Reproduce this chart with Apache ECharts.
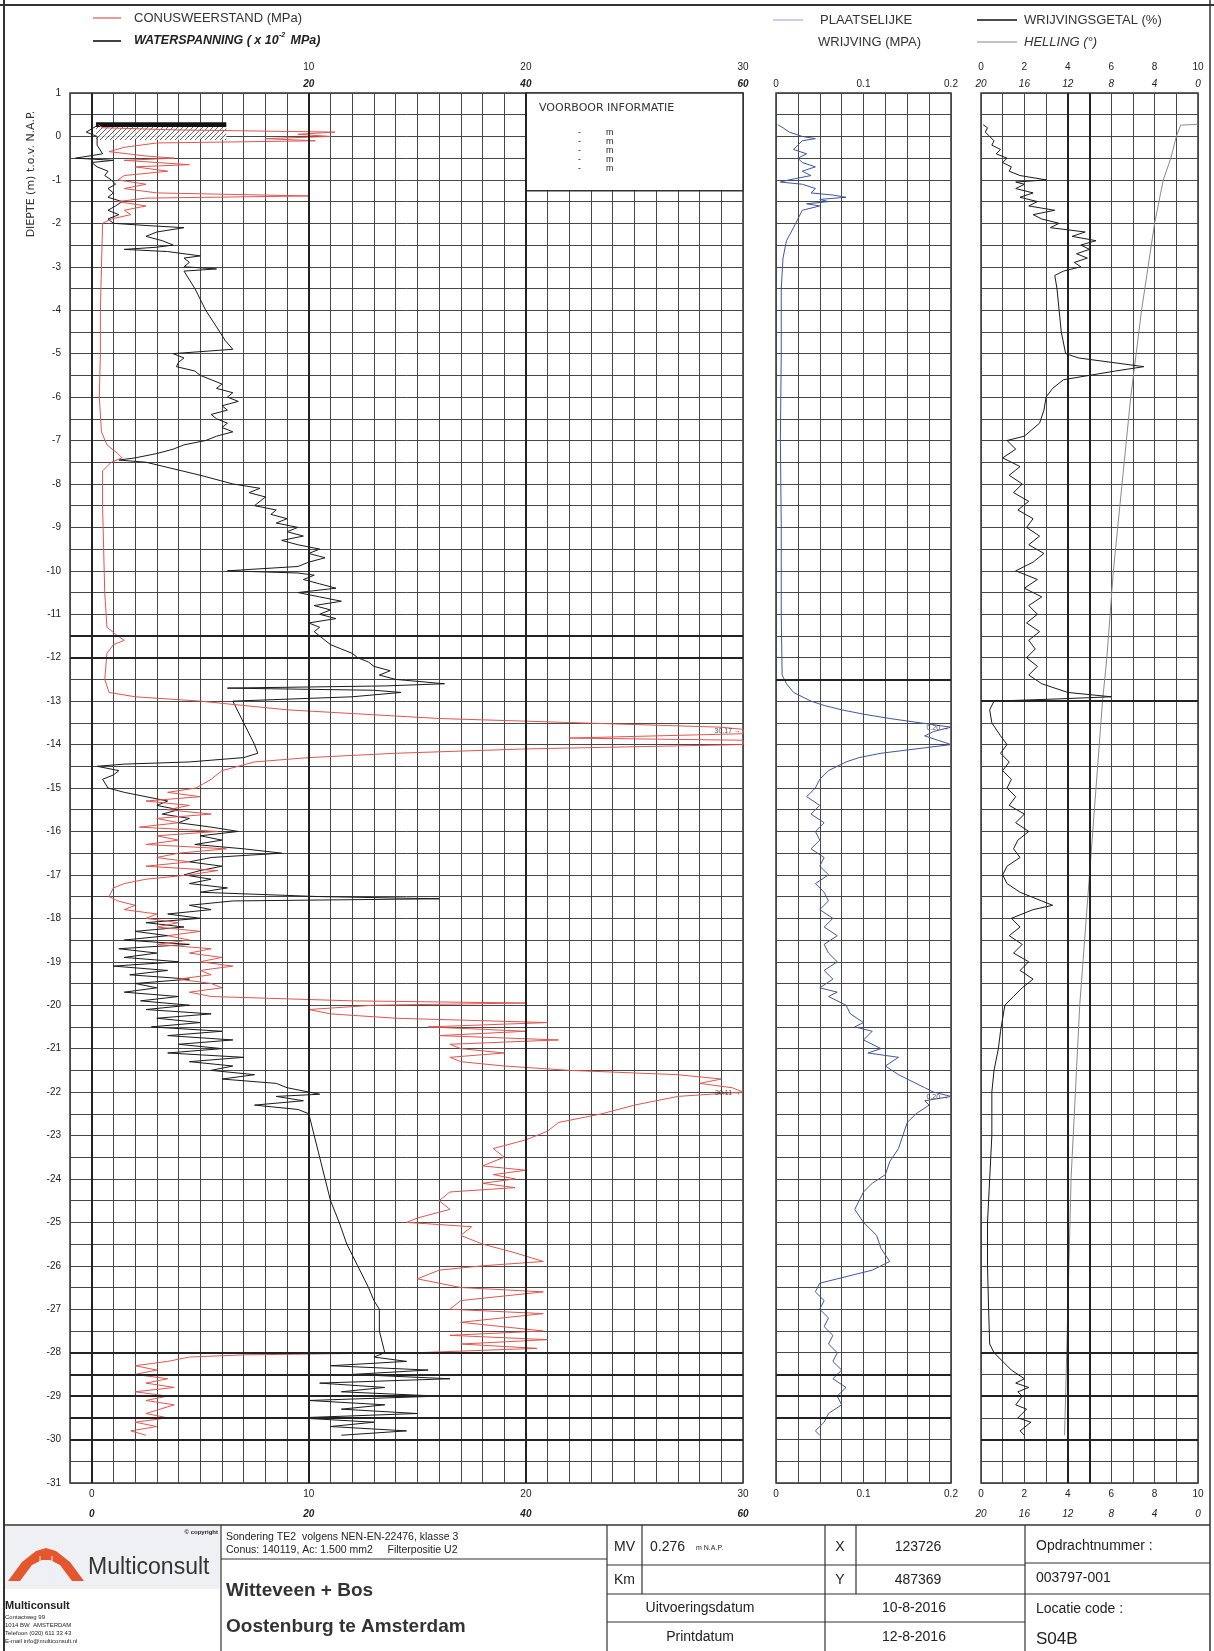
<!DOCTYPE html>
<html>
<head>
<meta charset="utf-8">
<script src="https://cdn.jsdelivr.net/npm/echarts@6/dist/echarts.min.js"></script>
<style>
html,body{margin:0;padding:0;background:#fff;}
#chart{width:1214px;height:1651px;}
</style>
</head>
<body>
<div id="chart"></div>
<script>
// [diepte m NAP, conusweerstand MPa]
const conus = [[0.27,0.3],[0.2,0.5],[0.15,4],[0.1,11.2],[0.05,9.5],[0.0,11.0],[-0.05,8],[-0.1,10.3],[-0.15,3],[-0.25,1.5],[-0.35,0.8],[-0.45,2.5],[-0.5,3.8],[-0.55,1.5],[-0.65,4.5],[-0.7,2],[-0.8,3.5],[-0.9,1.5],[-1.0,1.2],[-1.1,2.5],[-1.2,1.5],[-1.3,3],[-1.37,10],[-1.42,2.5],[-1.5,1.2],[-1.6,2.5],[-1.7,1.5],[-1.8,1.8],[-1.9,0.9],[-2.0,0.5],[-3,0.45],[-4,0.4],[-5,0.4],[-6,0.35],[-6.8,0.45],[-7.1,0.7],[-7.3,1.2],[-7.4,1.4],[-7.5,0.9],[-7.7,0.5],[-8.5,0.5],[-9.5,0.55],[-10.5,0.6],[-11.3,0.7],[-11.5,1.2],[-11.6,1.5],[-11.7,1.0],[-11.9,0.7],[-12.5,0.6],[-12.8,0.8],[-12.9,2],[-13.0,5],[-13.2,9],[-13.4,16],[-13.5,22.5],[-13.6,29],[-13.65,30],[-13.75,30],[-13.85,22],[-13.9,30],[-14.0,30],[-14.1,20],[-14.2,14],[-14.3,10],[-14.4,7.5],[-14.6,6],[-14.8,5.5],[-15.0,4.8],[-15.1,3.5],[-15.2,5],[-15.3,2.5],[-15.4,4.5],[-15.5,3.5],[-15.6,5.5],[-15.7,3],[-15.8,4],[-15.9,2.2],[-16.0,5.8],[-16.1,3],[-16.2,4],[-16.3,2.5],[-16.4,6.2],[-16.5,4],[-16.6,3],[-16.7,4.5],[-16.8,2.5],[-16.9,5.8],[-17.0,4.5],[-17.1,2.5],[-17.2,1.5],[-17.3,1.0],[-17.5,0.8],[-17.6,1.2],[-17.7,2],[-17.8,1.5],[-17.9,3],[-18.0,2.5],[-18.1,4],[-18.2,3],[-18.3,5],[-18.4,3.5],[-18.5,4.5],[-18.6,3],[-18.7,5.5],[-18.8,4.5],[-18.9,6],[-19.0,5],[-19.1,6.5],[-19.2,5],[-19.3,5.5],[-19.4,4],[-19.5,5.5],[-19.6,6],[-19.7,4.5],[-19.8,5.5],[-19.9,12],[-19.95,20],[-20.0,13],[-20.1,10],[-20.2,11],[-20.3,14],[-20.4,21],[-20.5,15.5],[-20.6,20],[-20.7,16],[-20.8,21.5],[-20.9,16.5],[-21.0,17],[-21.1,19],[-21.2,16.5],[-21.3,17],[-21.4,19],[-21.5,22],[-21.6,27],[-21.7,29],[-21.8,28],[-21.9,29.5],[-22.0,30],[-22.1,27],[-22.2,26],[-22.3,25],[-22.5,23.5],[-22.7,21.5],[-22.9,21],[-23.1,20],[-23.3,18.5],[-23.5,19],[-23.7,18],[-23.8,20],[-23.9,18.5],[-24.0,19.5],[-24.1,18],[-24.2,19.5],[-24.3,16.5],[-24.5,16],[-24.7,16.5],[-24.9,15],[-25.0,14.5],[-25.1,17.5],[-25.3,17],[-25.5,18],[-25.7,19.5],[-25.9,20.8],[-26.0,18],[-26.1,16],[-26.3,15],[-26.5,17],[-26.6,20.8],[-26.8,17],[-27.0,16.5],[-27.1,20.8],[-27.3,17],[-27.5,20.8],[-27.6,16.5],[-27.7,21],[-27.8,17],[-27.9,20.5],[-28.0,15],[-28.05,7],[-28.1,4.5],[-28.2,3.5],[-28.3,2],[-28.4,3],[-28.5,2],[-28.6,3.5],[-28.7,2.5],[-28.8,3.8],[-28.9,2],[-29.0,3.5],[-29.1,2.5],[-29.2,3.8],[-29.4,2.5],[-29.5,3.5],[-29.6,2],[-29.7,3],[-29.8,1.8],[-29.9,2.5]];

// [diepte, waterspanning x 10^-2 MPa]
const waterspanning = [[0.25,0.5],[0.1,-0.5],[0.0,0.5],[-0.2,0.5],[-0.4,1.0],[-0.5,-1.5],[-0.55,2],[-0.6,0],[-0.7,0.5],[-0.8,1.5],[-0.9,1.2],[-1.0,1.8],[-1.1,2.2],[-1.2,1.5],[-1.3,2],[-1.4,1.5],[-1.5,2.8],[-1.6,2.2],[-1.7,1.5],[-1.8,2.5],[-1.9,1.5],[-2.0,2],[-2.05,5],[-2.1,8.5],[-2.2,6],[-2.3,5],[-2.4,6.5],[-2.5,7.5],[-2.55,6],[-2.6,3],[-2.65,7],[-2.75,10],[-2.8,8.5],[-2.9,9],[-3.0,8.5],[-3.05,11.5],[-3.1,8.5],[-3.5,9.5],[-4.0,10.5],[-4.5,11.8],[-4.7,12.3],[-4.9,13],[-5.0,7.5],[-5.1,8.5],[-5.2,8],[-5.3,7.8],[-5.4,9.5],[-5.5,10],[-5.6,11],[-5.7,12],[-5.8,11.5],[-5.9,13],[-6.0,12.5],[-6.1,13.5],[-6.2,12],[-6.3,12.5],[-6.4,11],[-6.5,11.5],[-6.6,12.5],[-6.7,12],[-6.8,13],[-6.9,11.5],[-7.0,10.5],[-7.1,8.5],[-7.2,7.5],[-7.3,6],[-7.4,4],[-7.45,2.5],[-7.5,5],[-7.8,10],[-8.0,13],[-8.1,15.5],[-8.2,14.5],[-8.3,16],[-8.5,15],[-8.6,17],[-8.7,16.5],[-8.8,18],[-8.9,17],[-9.0,19],[-9.1,18],[-9.2,19.5],[-9.3,17.5],[-9.4,19],[-9.5,21],[-9.6,20],[-9.7,21.5],[-9.8,20],[-9.9,19],[-10.0,12.5],[-10.05,19],[-10.1,20.5],[-10.2,19.5],[-10.3,21],[-10.4,22.5],[-10.5,19],[-10.6,21],[-10.7,23],[-10.8,20.5],[-10.9,22],[-11.0,21],[-11.1,22.5],[-11.2,20],[-11.3,21],[-11.4,20.5],[-11.5,21],[-11.6,21.5],[-11.7,22],[-11.8,23],[-11.9,24],[-12.0,24.5],[-12.1,25.5],[-12.2,26],[-12.3,27.5],[-12.4,26.5],[-12.5,28],[-12.6,32.5],[-12.65,27],[-12.7,12.5],[-12.75,26],[-12.8,28.5],[-12.9,24],[-13.0,13],[-13.5,14],[-14.0,15],[-14.2,15.3],[-14.3,14],[-14.4,9],[-14.45,3],[-14.5,0.5],[-14.6,2.5],[-14.7,2],[-14.8,1],[-15.0,1.5],[-15.1,3],[-15.2,5],[-15.3,7],[-15.4,6],[-15.5,8],[-15.6,6.5],[-15.7,9],[-15.8,8],[-15.9,11],[-16.0,13.5],[-16.1,10],[-16.2,12],[-16.3,9.5],[-16.4,14],[-16.5,17.5],[-16.6,11],[-16.7,9],[-16.8,12],[-16.9,10],[-17.0,8.5],[-17.1,11],[-17.2,9],[-17.3,12.5],[-17.4,10],[-17.5,21],[-17.55,32],[-17.6,13],[-17.7,9],[-17.8,11],[-17.9,7],[-18.0,10],[-18.1,5],[-18.2,8.5],[-18.3,4],[-18.4,7],[-18.5,3],[-18.6,9],[-18.7,2.5],[-18.8,6],[-18.9,3],[-19.0,8],[-19.1,2],[-19.2,7],[-19.3,3.5],[-19.4,9],[-19.5,4],[-19.6,6],[-19.7,3],[-19.8,8],[-19.9,4.5],[-20.0,9],[-20.1,5],[-20.2,11],[-20.3,6],[-20.4,10],[-20.5,5.5],[-20.6,12],[-20.7,7],[-20.8,13],[-20.9,8],[-21.0,12],[-21.1,7],[-21.2,14],[-21.3,9],[-21.4,13],[-21.5,11],[-21.6,15],[-21.7,12],[-21.8,17],[-21.9,18],[-22.0,20],[-22.05,21],[-22.1,17],[-22.2,19.5],[-22.3,15],[-22.4,19],[-22.5,20],[-23.0,20.5],[-23.5,21],[-24.0,21.5],[-24.5,22],[-25.0,22.8],[-25.5,23.5],[-26.0,24.5],[-26.5,25.5],[-26.8,26],[-27.0,26.5],[-27.5,26.5],[-28.0,27],[-28.1,26],[-28.2,29],[-28.3,22],[-28.4,31],[-28.5,24],[-28.6,33],[-28.7,21],[-28.8,27],[-28.9,23],[-29.0,32],[-29.1,20],[-29.2,27],[-29.3,23],[-29.4,30],[-29.5,19],[-29.6,26],[-29.7,22],[-29.8,29],[-29.9,23]];

// [diepte, plaatselijke wrijving MPa]
const wrijving = [[0.27,0.002],[0.2,0.008],[0.1,0.015],[0.0,0.03],[-0.05,0.045],[-0.1,0.03],[-0.2,0.025],[-0.3,0.02],[-0.4,0.035],[-0.5,0.025],[-0.6,0.03],[-0.7,0.045],[-0.8,0.03],[-0.9,0.04],[-1.0,0.015],[-1.05,0.005],[-1.1,0.03],[-1.2,0.045],[-1.3,0.04],[-1.35,0.065],[-1.4,0.08],[-1.45,0.05],[-1.5,0.06],[-1.55,0.035],[-1.6,0.05],[-1.7,0.03],[-1.9,0.025],[-2.1,0.02],[-2.4,0.012],[-2.8,0.008],[-3.5,0.006],[-5,0.006],[-7,0.005],[-9,0.006],[-11,0.006],[-12.4,0.007],[-12.6,0.012],[-12.8,0.02],[-13.0,0.04],[-13.1,0.055],[-13.2,0.075],[-13.3,0.1],[-13.4,0.13],[-13.5,0.165],[-13.6,0.2],[-13.7,0.18],[-13.8,0.17],[-13.9,0.185],[-14.0,0.2],[-14.1,0.16],[-14.2,0.12],[-14.3,0.095],[-14.4,0.08],[-14.6,0.06],[-14.8,0.05],[-15.0,0.045],[-15.2,0.035],[-15.4,0.05],[-15.6,0.04],[-15.8,0.055],[-16.0,0.045],[-16.2,0.05],[-16.4,0.04],[-16.6,0.055],[-16.8,0.05],[-17.0,0.06],[-17.2,0.045],[-17.4,0.055],[-17.6,0.06],[-17.8,0.05],[-18.0,0.065],[-18.2,0.055],[-18.4,0.07],[-18.6,0.055],[-18.8,0.06],[-19.0,0.07],[-19.2,0.055],[-19.4,0.065],[-19.6,0.05],[-19.7,0.07],[-19.8,0.06],[-20.0,0.08],[-20.2,0.085],[-20.4,0.1],[-20.5,0.09],[-20.6,0.11],[-20.8,0.1],[-21.0,0.12],[-21.1,0.105],[-21.2,0.14],[-21.4,0.125],[-21.6,0.14],[-21.8,0.16],[-21.9,0.17],[-22.0,0.18],[-22.1,0.2],[-22.2,0.17],[-22.3,0.175],[-22.5,0.16],[-22.7,0.15],[-23.0,0.145],[-23.3,0.14],[-23.6,0.13],[-23.9,0.125],[-24.1,0.11],[-24.3,0.1],[-24.5,0.095],[-24.7,0.09],[-25.0,0.1],[-25.3,0.115],[-25.6,0.12],[-25.9,0.13],[-26.1,0.11],[-26.3,0.07],[-26.4,0.05],[-26.6,0.045],[-26.8,0.055],[-27.0,0.05],[-27.2,0.06],[-27.4,0.055],[-27.6,0.065],[-27.8,0.06],[-28.0,0.07],[-28.2,0.065],[-28.4,0.075],[-28.6,0.065],[-28.8,0.08],[-29.0,0.07],[-29.2,0.075],[-29.4,0.06],[-29.6,0.055],[-29.8,0.045],[-29.9,0.05]];

// [diepte, wrijvingsgetal %]
const wrijvingsgetal = [[0.27,0.1],[0.2,0.3],[0.1,0.2],[0.0,0.4],[-0.1,0.6],[-0.2,0.5],[-0.3,0.9],[-0.4,0.7],[-0.5,1.2],[-0.6,1.0],[-0.7,1.4],[-0.8,1.3],[-0.9,1.8],[-1.0,3.0],[-1.05,1.6],[-1.1,2.0],[-1.2,1.6],[-1.3,2.4],[-1.4,1.8],[-1.5,2.6],[-1.6,2.2],[-1.7,3.4],[-1.8,2.4],[-1.9,2.8],[-2.0,3.6],[-2.1,3.2],[-2.2,4.8],[-2.3,4.2],[-2.4,5.3],[-2.5,4.6],[-2.6,5.0],[-2.7,4.4],[-2.8,4.9],[-2.9,4.3],[-3.0,4.6],[-3.1,3.8],[-3.2,3.4],[-3.5,3.5],[-4.0,3.6],[-4.5,3.7],[-5.0,3.9],[-5.1,4.5],[-5.2,6.0],[-5.3,7.5],[-5.4,6.2],[-5.5,5.0],[-5.6,3.8],[-5.8,3.3],[-6.0,3.0],[-6.3,2.9],[-6.6,2.7],[-6.9,2.0],[-7.0,1.2],[-7.2,1.6],[-7.4,1.0],[-7.6,1.8],[-7.8,1.3],[-8.0,1.9],[-8.2,1.5],[-8.4,2.2],[-8.6,1.7],[-8.8,2.4],[-9.0,2.1],[-9.2,2.7],[-9.4,2.2],[-9.6,2.9],[-9.8,2.4],[-10.0,1.6],[-10.2,2.6],[-10.4,2.0],[-10.6,2.8],[-10.8,2.2],[-11.0,2.6],[-11.2,2.1],[-11.4,2.7],[-11.6,2.2],[-11.8,2.5],[-12.0,2.1],[-12.2,2.6],[-12.4,2.2],[-12.6,2.8],[-12.8,4.0],[-12.9,6.0],[-12.95,3.5],[-13.0,0.6],[-13.2,0.4],[-13.5,0.5],[-13.8,0.9],[-14.0,1.2],[-14.2,0.9],[-14.4,1.3],[-14.6,1.0],[-14.8,1.4],[-15.0,1.2],[-15.2,1.6],[-15.4,1.3],[-15.6,2.0],[-15.8,1.6],[-16.0,2.2],[-16.2,1.7],[-16.4,1.5],[-16.6,1.8],[-16.8,1.2],[-17.0,1.0],[-17.2,1.2],[-17.4,1.8],[-17.6,2.8],[-17.7,3.3],[-17.8,2.4],[-18.0,1.4],[-18.2,1.8],[-18.4,1.3],[-18.6,1.9],[-18.8,1.5],[-19.0,2.2],[-19.2,1.8],[-19.4,2.4],[-19.6,1.9],[-19.8,1.5],[-20.0,1.1],[-20.3,1.0],[-20.6,0.9],[-21.0,0.8],[-21.5,0.6],[-22.0,0.5],[-22.5,0.5],[-23.0,0.5],[-24.0,0.4],[-25.0,0.3],[-26.0,0.3],[-27.0,0.35],[-27.8,0.4],[-28.0,0.6],[-28.2,1.0],[-28.4,1.4],[-28.6,2.0],[-28.7,1.6],[-28.8,2.2],[-28.9,1.7],[-29.0,1.9],[-29.2,1.6],[-29.3,2.1],[-29.5,1.7],[-29.6,2.3],[-29.8,1.8],[-29.9,2.0]];

// [diepte, helling graden]
const helling = [[0.28,0.0],[0.26,1.6],[0.0,2.0],[-0.5,2.5],[-1,3.2],[-2,4.0],[-3,4.6],[-4,5.2],[-5,5.7],[-6,6.2],[-7,6.6],[-8,7.0],[-9,7.4],[-10,7.8],[-11,8.1],[-12,8.4],[-13,8.8],[-14,9.1],[-15,9.4],[-16,9.7],[-17,10.0],[-18,10.3],[-19,10.6],[-20,10.9],[-21,11.1],[-22,11.3],[-23,11.5],[-24,11.7],[-25,11.8],[-26,11.9],[-27,12.0],[-28,12.1],[-29,12.2],[-29.9,12.3]];

// afgekapte pieken: [waarde, diepte, tekst]
const conusClip = [[30, -13.68, '30.17'], [30, -22.02, '30.11']];
const wrijvingClip = [[0.2, -13.62, '0.20'], [0.2, -22.12, '0.20']];

// dikke rasterlijnen
const mainThickX = [0, 10, 20];
const mainThickY = [-11.5, -12, -28, -28.5, -29, -29.5, -30];
const midThickY = [-12.5, -28.5, -29, -29.5];
const rightThickX = [4, 5];
const rightThickY = [-13, -28, -29, -30];

const MV = 0.276;

const FONT = 'Liberation Sans';
const WIDE = 'DejaVu Sans';
const GRID_COLOR = '#474747';

function flip(arr) { return arr.map(p => [p[1], p[0]]); }
function near(v, list) { return list.some(t => Math.abs(v - t) < 1e-6); }
function thickLines(xs, ys) {
  return {
    silent: true, symbol: 'none', animation: false,
    label: {show: false},
    lineStyle: {color: '#222', width: 2, type: 'solid'},
    data: xs.map(v => ({xAxis: v})).concat(ys.map(v => ({yAxis: v})))
  };
}

// arcering voor maaiveld
const hatch = document.createElement('canvas');
hatch.width = 5; hatch.height = 5;
const hc = hatch.getContext('2d');
hc.fillStyle = '#fff'; hc.fillRect(0, 0, 5, 5);
hc.strokeStyle = '#444'; hc.lineWidth = 1;
hc.beginPath(); hc.moveTo(0, 5); hc.lineTo(5, 0); hc.moveTo(-1, 1); hc.lineTo(1, -1); hc.moveTo(4, 6); hc.lineTo(6, 4); hc.stroke();

const lbl = {fontFamily: FONT, fontSize: 10, color: '#222'};

function xAxisDef(grid, min, max, step, pos, margin, shown, extra) {
  return Object.assign({
    gridIndex: grid, type: 'value', min: min, max: max, interval: step, position: pos,
    axisLine: {show: false}, axisTick: {show: false}, splitLine: {show: false},
    axisLabel: Object.assign({margin: margin, formatter: v => near(v, shown) ? String(+v.toFixed(3)) : ''}, lbl)
  }, extra || {});
}

const gridSplit = {show: true, lineStyle: {color: GRID_COLOR, width: 1}};

const dom = document.getElementById('chart');
const chart = echarts.init(dom, null, {renderer: 'canvas'});

// titelblok
const TB = 1525;
function L(x1, y1, x2, y2, w, c) {
  return {type: 'line', z: 100, shape: {x1: x1, y1: y1, x2: x2, y2: y2}, style: {stroke: c || '#333', lineWidth: w || 1}, silent: true};
}
function T(x, y, text, size, extra) {
  return {type: 'text', x: x, y: y, z: 100, silent: true,
    style: Object.assign({text: text, fontFamily: FONT, fontSize: size, fill: '#222', verticalAlign: 'middle'}, extra || {})};
}
const C = {align: 'center'};

const graphics = [
  // kader
  L(4, 0, 4, 1651, 2), L(0, 5, 1214, 5, 2), L(1210, 0, 1210, 1651, 1.5),
  // legenda
  L(93, 18, 121, 18, 1.2, '#e0564f'),
  T(134, 18, 'CONUSWEERSTAND (MPa)', 13, {fill: '#333'}),
  L(93, 41, 121, 41, 1.6, '#111'),
  T(134, 41, 'WATERSPANNING ( x 10', 12.5, {fontWeight: 'bold', fontStyle: 'italic'}),
  T(279, 35, '-2', 7, {fontWeight: 'bold', fontStyle: 'italic'}),
  T(287, 41, ' MPa)', 12.5, {fontWeight: 'bold', fontStyle: 'italic'}),
  L(773, 20, 803, 20, 1, '#8fa0cc'),
  T(820, 20, 'PLAATSELIJKE', 13, {fill: '#333'}),
  T(818, 42, 'WRIJVING (MPA)', 13, {fill: '#333'}),
  L(977, 20, 1017, 20, 1.6, '#111'),
  T(1024, 20, 'WRIJVINGSGETAL (%)', 13, {fill: '#333'}),
  L(977, 42, 1017, 42, 1.2, '#888'),
  T(1024, 42, 'HELLING (°)', 13, {fill: '#333', fontStyle: 'italic'}),
  // as-titel
  {type: 'text', x: 31, y: 174, z: 100, rotation: Math.PI / 2, silent: true,
    style: {text: 'DIEPTE (m) t.o.v. N.A.P.', fontFamily: WIDE, fontSize: 11, fill: '#333', align: 'center', verticalAlign: 'middle'}},
  // voorboor informatie
  T(539, 108, 'VOORBOOR INFORMATIE', 11, {fill: '#333', fontFamily: WIDE}),
  // titelblok
  L(4, TB, 1210, TB, 1.5),
  {type: 'rect', z: 99, shape: {x: 5, y: TB + 1, width: 215, height: 63}, style: {fill: '#eef0f4'}, silent: true},
  {type: 'polygon', z: 100, shape: {points: [[8, 1581], [22, 1562], [36, 1551], [46, 1548], [56, 1551], [70, 1562], [84, 1581], [72, 1581], [60, 1565], [50, 1560], [42, 1560], [32, 1565], [20, 1581]]},
    style: {fill: '#e4572e'}, silent: true},
  L(40, 1556, 40, 1581, 1, '#eee'), L(52, 1556, 52, 1581, 1, '#eee'),
  T(88, 1568, 'Multiconsult', 23, {fill: '#333'}),
  T(218, 1532, '© copyright', 6, {align: 'right', fontWeight: 'bold'}),
  T(5, 1606, 'Multiconsult', 11, {fontWeight: 'bold'}),
  T(5, 1617, 'Contactweg 99', 6), T(5, 1625, '1014 BW  AMSTERDAM', 6),
  T(5, 1633, 'Telefoon (020) 611 33 43', 6), T(5, 1641, 'E-mail info@multiconsult.nl', 6),
  L(221, TB, 221, 1651, 1.2),
  T(226, 1537, 'Sondering TE2  volgens NEN-EN-22476, klasse 3', 10.5),
  T(226, 1550, 'Conus: 140119, Ac: 1.500 mm2     Filterpositie U2', 10.5),
  L(221, 1559, 607, 1559, 1.2),
  T(226, 1591, 'Witteveen + Bos', 19, {fontWeight: 'bold', fill: '#333'}),
  T(226, 1627, 'Oostenburg te Amsterdam', 19, {fontWeight: 'bold', fill: '#333'}),
  L(607, TB, 607, 1651, 1.2), L(642, TB, 642, 1594, 1.2), L(825, TB, 825, 1651, 1.2),
  L(856, TB, 856, 1594, 1.2), L(1025, TB, 1025, 1651, 1.2),
  L(607, 1565, 1025, 1565, 1.2), L(607, 1594, 1210, 1594, 1.2), L(607, 1622, 1025, 1622, 1.2),
  L(1025, 1563, 1210, 1563, 1.2),
  T(614, 1547, 'MV', 14), T(650, 1547, '0.276', 14), T(696, 1548, 'm N.A.P.', 7),
  T(840, 1547, 'X', 14, C), T(918, 1547, '123726', 14, C),
  T(614, 1580, 'Km', 14),
  T(840, 1580, 'Y', 14, C), T(918, 1580, '487369', 14, C),
  T(700, 1608, 'Uitvoeringsdatum', 14, C), T(914, 1608, '10-8-2016', 14, C),
  T(700, 1637, 'Printdatum', 14, C), T(914, 1637, '12-8-2016', 14, C),
  T(1036, 1546, 'Opdrachtnummer :', 14), T(1036, 1578, '003797-001', 14),
  T(1036, 1609, 'Locatie code :', 14), T(1036, 1639, 'S04B', 17)
];

// voorboor regels in het witte vak
for (let i = 0; i < 5; i++) {
  graphics.push(T(578, 133 + i * 9, '-', 9), T(606, 133 + i * 9, 'm', 9));
}

const option = {
  animation: false,
  backgroundColor: '#fff',
  grid: [
    {left: 70, top: 93, width: 673, height: 1390, show: true, borderColor: '#333', borderWidth: 1.5},
    {left: 776, top: 93, width: 175, height: 1390, show: true, borderColor: '#333', borderWidth: 1.5},
    {left: 981, top: 93, width: 217, height: 1390, show: true, borderColor: '#333', borderWidth: 1.5}
  ],
  xAxis: [
    xAxisDef(0, -1, 30, 1, 'bottom', 6, [0, 10, 20, 30], {splitLine: gridSplit}),
    xAxisDef(0, -2, 60, 2, 'bottom', 26, [0, 20, 40, 60], {axisLabel: Object.assign({margin: 26, fontWeight: 'bold', fontStyle: 'italic', formatter: v => near(v, [0, 20, 40, 60]) ? String(v) : ''}, lbl)}),
    xAxisDef(0, -1, 30, 1, 'top', 21, [10, 20, 30]),
    xAxisDef(0, -2, 60, 2, 'top', 4, [20, 40, 60], {axisLabel: Object.assign({margin: 4, fontWeight: 'bold', fontStyle: 'italic', formatter: v => near(v, [20, 40, 60]) ? String(v) : ''}, lbl)}),
    xAxisDef(1, 0, 0.2, 0.025, 'bottom', 6, [0, 0.1, 0.2], {splitLine: gridSplit}),
    xAxisDef(1, 0, 0.2, 0.025, 'top', 4, [0, 0.1, 0.2]),
    xAxisDef(2, 0, 10, 1, 'bottom', 6, [0, 2, 4, 6, 8, 10], {splitLine: gridSplit}),
    xAxisDef(2, 0, 20, 2, 'bottom', 26, [0, 4, 8, 12, 16, 20], {inverse: true, axisLabel: Object.assign({margin: 26, fontStyle: 'italic', formatter: v => near(v, [0, 4, 8, 12, 16, 20]) ? String(v) : ''}, lbl)}),
    xAxisDef(2, 0, 10, 1, 'top', 21, [0, 2, 4, 6, 8, 10]),
    xAxisDef(2, 0, 20, 2, 'top', 4, [0, 4, 8, 12, 16, 20], {inverse: true, axisLabel: Object.assign({margin: 4, fontStyle: 'italic', formatter: v => near(v, [0, 4, 8, 12, 16, 20]) ? String(v) : ''}, lbl)})
  ],
  yAxis: [
    {gridIndex: 0, type: 'value', min: -31, max: 1, interval: 0.5,
      axisLine: {show: false}, axisTick: {show: false}, splitLine: gridSplit,
      axisLabel: Object.assign({margin: 9, formatter: v => Number.isInteger(v) ? String(v) : ''}, lbl)},
    {gridIndex: 1, type: 'value', min: -31, max: 1, interval: 0.5,
      axisLine: {show: false}, axisTick: {show: false}, splitLine: gridSplit, axisLabel: {show: false}},
    {gridIndex: 2, type: 'value', min: -31, max: 1, interval: 0.5,
      axisLine: {show: false}, axisTick: {show: false}, splitLine: gridSplit, axisLabel: {show: false}}
  ],
  graphic: graphics,
  series: [
    {
      name: 'CONUSWEERSTAND (MPa)', type: 'line', xAxisIndex: 0, yAxisIndex: 0,
      data: flip(conus), showSymbol: false, z: 4,
      lineStyle: {color: '#e0564f', width: 1},
      markLine: thickLines(mainThickX, mainThickY),
      markArea: {
        silent: true,
        data: [
          [{xAxis: 20, yAxis: 1, itemStyle: {color: '#fff', borderColor: '#333', borderWidth: 1.5}}, {xAxis: 30, yAxis: -1.25}],
          [{xAxis: 0.2, yAxis: MV + 0.05, itemStyle: {color: '#111'}}, {xAxis: 6.2, yAxis: MV - 0.06}],
          [{xAxis: 0.2, yAxis: MV - 0.06, itemStyle: {color: {image: hatch, repeat: 'repeat'}, opacity: 0.8}}, {xAxis: 6.2, yAxis: -0.08}]
        ]
      }
    },
    {
      name: 'WATERSPANNING', type: 'line', xAxisIndex: 1, yAxisIndex: 0,
      data: flip(waterspanning), showSymbol: false, z: 3,
      lineStyle: {color: '#1a1a1a', width: 1}
    },
    {
      name: 'PLAATSELIJKE WRIJVING (MPA)', type: 'line', xAxisIndex: 4, yAxisIndex: 1,
      data: flip(wrijving), showSymbol: false,
      lineStyle: {color: '#3d57a0', width: 1},
      markLine: thickLines([], midThickY)
    },
    {
      name: 'WRIJVINGSGETAL (%)', type: 'line', xAxisIndex: 6, yAxisIndex: 2,
      data: flip(wrijvingsgetal), showSymbol: false, z: 4,
      lineStyle: {color: '#1a1a1a', width: 1},
      markLine: thickLines(rightThickX, rightThickY)
    },
    {
      name: 'HELLING', type: 'line', xAxisIndex: 7, yAxisIndex: 2,
      data: flip(helling), showSymbol: false,
      lineStyle: {color: '#8a8a8a', width: 1}
    },
    {
      type: 'scatter', xAxisIndex: 0, yAxisIndex: 0, symbolSize: 0, silent: true, z: 6,
      data: conusClip.map(c => ({value: [c[0], c[1]], name: c[2]})),
      label: {show: true, position: 'left', distance: 2, formatter: p => p.name + ' \u2192', fontFamily: FONT, fontSize: 7, color: '#222'}
    },
    {
      type: 'scatter', xAxisIndex: 4, yAxisIndex: 1, symbolSize: 0, silent: true, z: 6,
      data: wrijvingClip.map(c => ({value: [c[0], c[1]], name: c[2]})),
      label: {show: true, position: 'left', distance: 2, formatter: p => p.name + ' \u2192', fontFamily: FONT, fontSize: 7, color: '#222'}
    }
  ]
};
chart.setOption(option, true);
</script>
</body>
</html>
